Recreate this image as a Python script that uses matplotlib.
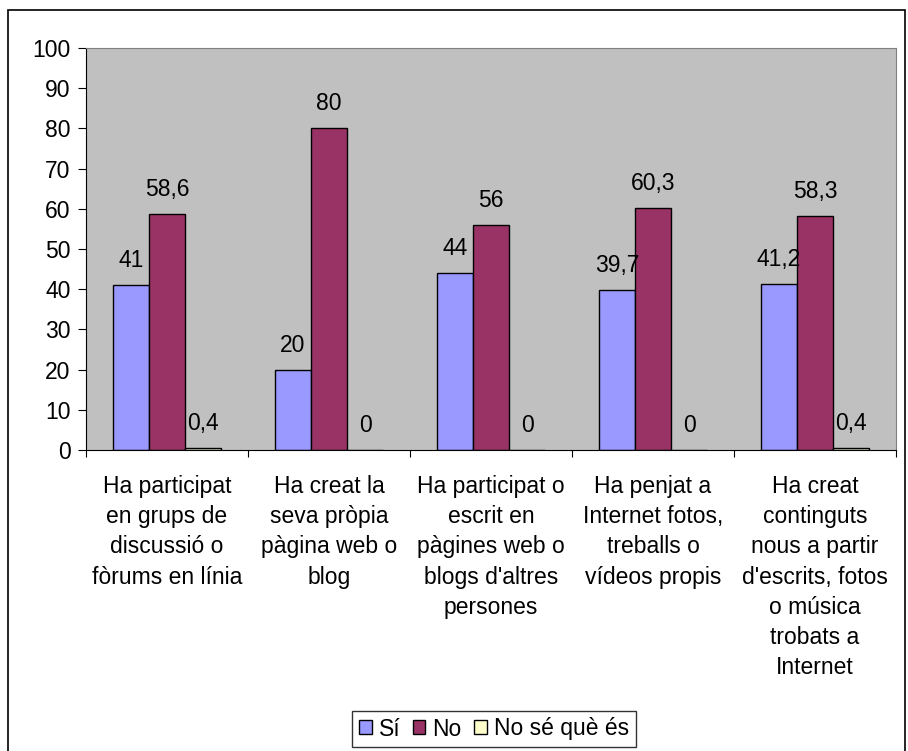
import numpy as np
import matplotlib.pyplot as plt
from matplotlib.patches import Rectangle

plt.rcParams['font.family'] = ['Liberation Sans', 'DejaVu Sans']

categories = ["Ha participat\nen grups de\ndiscussió o\nfòrums en línia",
              "Ha creat la\nseva pròpia\npàgina web o\nblog",
              "Ha participat o\nescrit en\npàgines web o\nblogs d'altres\npersones",
              "Ha penjat a\nInternet fotos,\ntreballs o\nvídeos propis",
              "Ha creat\ncontinguts\nnous a partir\nd'escrits, fotos\no música\ntrobats a\nInternet"]
si = [41, 20, 44, 39.7, 41.2]
no = [58.6, 80, 56, 60.3, 58.3]
no_se = [0.4, 0, 0, 0, 0.4]
series_names = ["Sí", "No", "No sé què és"]
colors = ["#9999FF", "#993366", "#FFFFCC"]

fs = 16.5

fig = plt.figure(figsize=(9.08, 7.51), dpi=100)
# outer chart border (bottom edge falls outside the picture)
fig.patches.append(Rectangle((8/908, -0.02), 897/908, 1.02 - 10/751, transform=fig.transFigure,
                             fill=False, edgecolor='black', linewidth=1.2))
ax = fig.add_axes([86/908, 1 - 450/751, 810/908, 402/751])
ax.set_facecolor('#C0C0C0')

x = np.arange(len(categories))
w = 36/162
for i, (vals, name, c) in enumerate(zip([si, no, no_se], series_names, colors)):
    pos = x + (i - 1) * w
    ax.bar(pos, vals, w, color=c, edgecolor='black', linewidth=1, label=name)
    for p, v in zip(pos, vals):
        txt = ('%g' % v).replace('.', ',')
        ax.annotate(txt, (p, v), xytext=(0, 13), textcoords='offset points',
                    ha='center', va='baseline', fontsize=fs)

ax.set_xlim(-0.5, len(categories) - 0.5)
ax.set_ylim(0, 100)
ax.set_yticks(range(0, 101, 10))
ax.tick_params(axis='y', labelsize=fs, length=6, direction='out', pad=5)
ax.set_xticks(np.arange(-0.5, len(categories), 1))
ax.set_xticklabels([])
ax.tick_params(axis='x', length=5, direction='out')
for k, lab in enumerate(categories):
    ax.annotate(lab, (k, 0), xytext=(0, -18), textcoords='offset points',
                ha='center', va='top', fontsize=fs, linespacing=1.4)
ax.spines['top'].set_color('#808080')
ax.spines['right'].set_color('#808080')
ax.spines['left'].set_color('black')
ax.spines['bottom'].set_color('black')

leg = fig.legend(loc='center', bbox_to_anchor=(494/908, 1 - 729/751), ncol=3,
                 fontsize=fs, frameon=True, fancybox=False, edgecolor='black',
                 handlelength=0.55, handleheight=0.55, handletextpad=0.3,
                 columnspacing=0.55, borderpad=0.3)
leg.get_frame().set_linewidth(1)

fig.savefig('out.png', dpi=100)
